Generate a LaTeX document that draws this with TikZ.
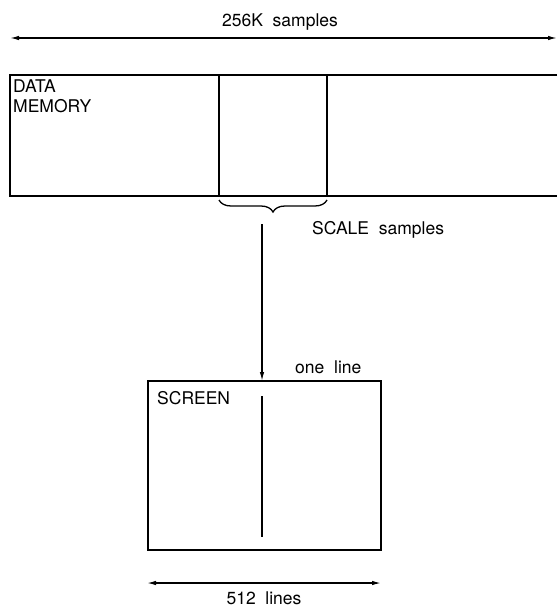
\documentclass[tikz,border=0pt]{standalone}
\usepackage{fontspec}
\setmainfont{TeX Gyre Heros}
\usetikzlibrary{arrows.meta,decorations.pathreplacing}
\begin{document}
\begin{tikzpicture}[x=1pt,y=-1pt,
  line/.style={line width=1.3pt},
  tip/.style={-{Latex[length=9pt,width=4.5pt]}},
  dtip/.style={{Latex[length=9pt,width=4.5pt]}-{Latex[length=9pt,width=4.5pt]}},
  lbl/.style={inner sep=0pt,font=\fontsize{17.5}{20}\selectfont}]
\useasboundingbox (0,0) rectangle (557,607);
% top dimension
\coordinate (tl) at (10,38);
\coordinate (tr) at (557,38);
\draw[line,dtip] (tl) -- (tr);
\node[lbl] (t256) at (280,22) {256K\ \ samples};
% data memory
\coordinate (m1) at (557,75);
\coordinate (m2) at (10,75);
\coordinate (m3) at (10,196);
\coordinate (m4) at (557,196);
\draw[line] (m1) -- (m2) -- (m3) -- (m4);
\coordinate (s1) at (219,75);
\coordinate (s2) at (219,196);
\coordinate (s3) at (327,75);
\coordinate (s4) at (327,196);
\draw[line] (s1) -- (s2);
\draw[line] (s3) -- (s4);
\node[lbl,anchor=north west,align=left] (dm) at (13,80) {DATA\\MEMORY};
% brace
\coordinate (b1) at (327,200);
\coordinate (b2) at (219,200);
\draw[line,decorate,decoration={brace,amplitude=12pt}] (b1) -- (b2);
\node[lbl,anchor=west] (sc) at (312,230) {SCALE\ \ samples};
% screen
\node[draw,line width=1.3pt,minimum width=233pt,minimum height=169pt,inner sep=0pt] (scr) at (264.5,465.5) {};
\coordinate (ctop) at (262,224);
\draw[line,tip] (ctop) -- (262,381);
\node[lbl,anchor=west] (ol) at (295,367) {one\ \ line};
\node[lbl,anchor=north west] (sn) at (157,391) {SCREEN};
\coordinate (l1) at (262,396);
\coordinate (l2) at (262,537);
\draw[line width=2.4pt] (l1) -- (l2);
% bottom dimension
\coordinate (bl) at (147,583);
\coordinate (br) at (381,583);
\draw[line,dtip] (bl) -- (br);
\node[lbl] (l512) at (264,598) {512\ \ lines};
\end{tikzpicture}
\end{document}
